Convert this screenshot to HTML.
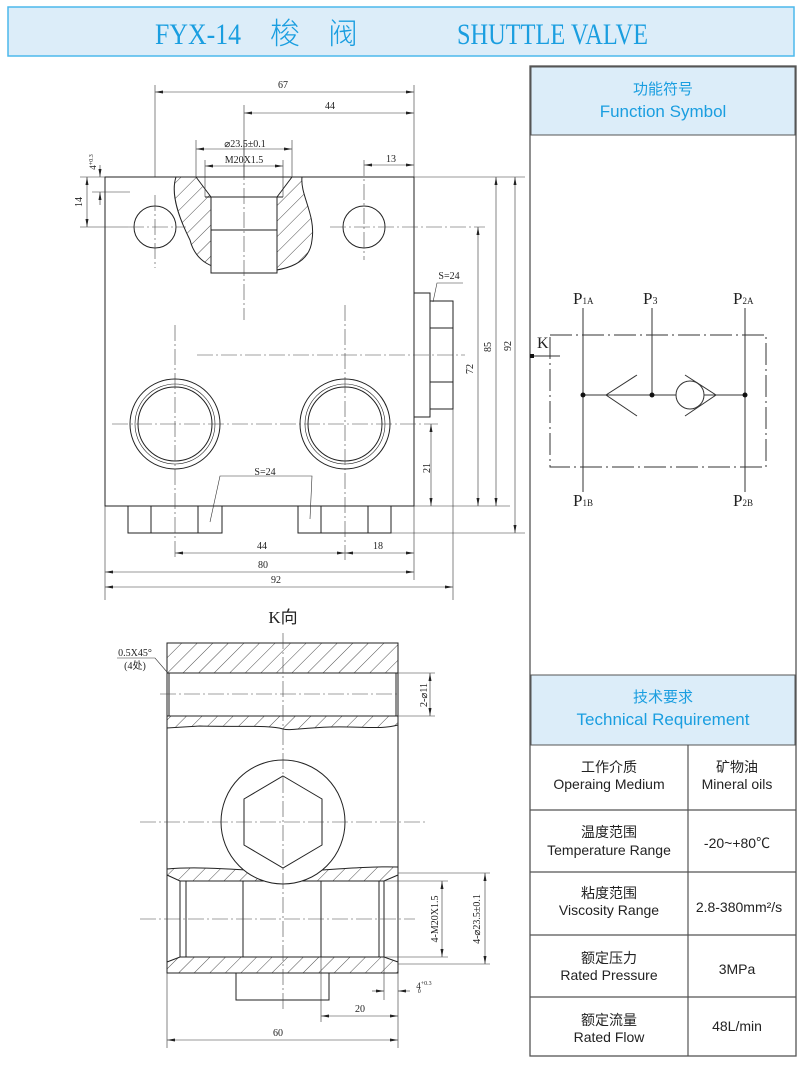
<!DOCTYPE html>
<html><head><meta charset="utf-8"><style>
html,body{margin:0;padding:0;background:#fff;}
body{width:800px;height:1066px;position:relative;overflow:hidden;font-family:"Liberation Sans","Noto Sans CJK SC",sans-serif;}
svg{position:absolute;left:0;top:0;}
</style></head><body>
<svg width="800" height="1066" viewBox="0 0 800 1066" xmlns="http://www.w3.org/2000/svg">
<defs>
<pattern id="h" width="11" height="11" patternUnits="userSpaceOnUse" patternTransform="rotate(45)">
<line x1="0" y1="0" x2="0" y2="11" stroke="#222" stroke-width="0.8"/></pattern>
<marker id="a" markerWidth="8" markerHeight="6" refX="8" refY="3" orient="auto-start-reverse" markerUnits="userSpaceOnUse"><path d="M0,1.5 L8,3 L0,4.5z" fill="#222"/></marker>
</defs>
<!-- header -->
<rect x="8" y="7" width="786" height="49" fill="#dcedf9" stroke="#4cb8ec" stroke-width="1.5"/>
<g font-family="Liberation Serif,Noto Serif CJK SC,serif" font-size="30" fill="#1a9ee0">
<text x="155" y="44" textLength="86" lengthAdjust="spacingAndGlyphs">FYX-14</text>
<text x="270" y="44" font-family="Noto Sans CJK SC,sans-serif" font-weight="300">梭</text>
<text x="328" y="44" font-family="Noto Sans CJK SC,sans-serif" font-weight="300">阀</text>
<text x="457" y="44" textLength="191" lengthAdjust="spacingAndGlyphs">SHUTTLE VALVE</text>
</g>

<!-- right panel -->
<rect x="530" y="66" width="266" height="990" fill="none" stroke="#555" stroke-width="1.3"/>
<rect x="531" y="67" width="264" height="68" fill="#dcedf9" stroke="#555"/>
<text x="663" y="94" text-anchor="middle" font-size="15" fill="#1a9ee0">功能符号</text>
<text x="663" y="117" text-anchor="middle" font-size="17" fill="#1a9ee0">Function Symbol</text>
<rect x="531" y="675" width="264" height="70" fill="#dcedf9" stroke="#555"/>
<text x="663" y="702" text-anchor="middle" font-size="15" fill="#1a9ee0">技术要求</text>
<text x="663" y="725" text-anchor="middle" font-size="17" fill="#1a9ee0">Technical Requirement</text>
<g stroke="#555" stroke-width="1.2">
<line x1="688" y1="745" x2="688" y2="1056"/>
<line x1="530" y1="810" x2="796" y2="810"/>
<line x1="530" y1="872" x2="796" y2="872"/>
<line x1="530" y1="935" x2="796" y2="935"/>
<line x1="530" y1="997" x2="796" y2="997"/>
</g>
<g font-size="14" fill="#222" text-anchor="middle">
<text x="609" y="772">工作介质</text><text x="609" y="789">Operaing Medium</text>
<text x="737" y="772">矿物油</text><text x="737" y="789">Mineral oils</text>
<text x="609" y="837">温度范围</text><text x="609" y="855">Temperature Range</text>
<text x="737" y="848">-20~+80℃</text>
<text x="609" y="898">粘度范围</text><text x="609" y="915">Viscosity Range</text>
<text x="739" y="912">2.8-380mm²/s</text>
<text x="609" y="963">额定压力</text><text x="609" y="980">Rated Pressure</text>
<text x="737" y="974">3MPa</text>
<text x="609" y="1025">额定流量</text><text x="609" y="1042">Rated Flow</text>
<text x="737" y="1031">48L/min</text>
</g>

<!-- function symbol -->
<g stroke="#333" stroke-width="1" fill="none">
<rect x="550" y="335" width="216" height="132" stroke-dasharray="22,4,2,4"/>
<line x1="583" y1="308" x2="583" y2="492"/>
<line x1="745" y1="308" x2="745" y2="492"/>
<line x1="652" y1="308" x2="652" y2="395"/>
<line x1="583" y1="395" x2="745" y2="395"/>
<polyline points="637,375 606,395 637,416"/>
<circle cx="690" cy="395" r="14" fill="#fff"/>
<polyline points="685,375 716,395 685,416"/>
<line x1="530" y1="356" x2="560" y2="356"/>
</g>
<g fill="#111"><circle cx="583" cy="395" r="2.5"/><circle cx="652" cy="395" r="2.5"/><circle cx="745" cy="395" r="2.5"/><rect x="530" y="354" width="4" height="4"/></g>
<g font-family="Liberation Serif,serif" fill="#222">
<text x="573" y="304" font-size="17">P<tspan font-size="9">1A</tspan></text>
<text x="643" y="304" font-size="17">P<tspan font-size="10">3</tspan></text>
<text x="733" y="304" font-size="17">P<tspan font-size="9">2A</tspan></text>
<text x="573" y="506" font-size="17">P<tspan font-size="9">1B</tspan></text>
<text x="733" y="506" font-size="17">P<tspan font-size="9">2B</tspan></text>
<text x="537" y="348" font-size="16">K</text>
</g>

<!-- top view -->
<g stroke="#222" stroke-width="1" fill="none">
<path d="M176,177 C170,195 180,220 190,240 C195,260 210,272 250,272 C290,272 310,262 312,240 C316,215 300,195 302,177" fill="url(#h)"/>
<path d="M196,177 L211,197 L211,273 L277,273 L277,197 L292,177z" fill="#fff"/>
<line x1="205" y1="197" x2="283" y2="197"/>
<line x1="211" y1="230" x2="277" y2="230"/>
<rect x="105" y="177" width="309" height="329"/>
<circle cx="155" cy="227" r="21"/><circle cx="364" cy="227" r="21"/>
<circle cx="175" cy="424" r="45"/><circle cx="175" cy="424" r="37"/><circle cx="175" cy="424" r="40" stroke-width="0.6"/>
<circle cx="345" cy="424" r="45"/><circle cx="345" cy="424" r="37"/><circle cx="345" cy="424" r="40" stroke-width="0.6"/>
<rect x="414" y="293" width="16" height="124"/>
<rect x="430" y="301" width="23" height="108"/>
<line x1="430" y1="328" x2="453" y2="328"/><line x1="430" y1="382" x2="453" y2="382"/>
<rect x="128" y="506" width="94" height="27"/><line x1="151" y1="506" x2="151" y2="533"/><line x1="198" y1="506" x2="198" y2="533"/>
<rect x="298" y="506" width="93" height="27"/><line x1="321" y1="506" x2="321" y2="533"/><line x1="368" y1="506" x2="368" y2="533"/>
</g>
<g stroke="#444" stroke-width="0.6" fill="none" stroke-dasharray="16,3,2,3">
<line x1="244" y1="140" x2="244" y2="320"/>
<line x1="155" y1="195" x2="155" y2="268"/><line x1="128" y1="227" x2="186" y2="227"/>
<line x1="364" y1="160" x2="364" y2="260"/><line x1="330" y1="227" x2="485" y2="227"/>
<line x1="175" y1="325" x2="175" y2="560"/><line x1="345" y1="305" x2="345" y2="560"/>
<line x1="112" y1="424" x2="438" y2="424"/><line x1="197" y1="355" x2="465" y2="355"/>
</g>
<g stroke="#333" stroke-width="0.6" fill="none">
<line x1="155" y1="85" x2="155" y2="177"/><line x1="414" y1="85" x2="414" y2="177"/><line x1="244" y1="105" x2="244" y2="177"/>
<line x1="155" y1="92" x2="414" y2="92" marker-start="url(#a)" marker-end="url(#a)"/>
<line x1="244" y1="113" x2="414" y2="113" marker-start="url(#a)" marker-end="url(#a)"/>
<line x1="196" y1="140" x2="196" y2="177"/><line x1="292" y1="140" x2="292" y2="177"/>
<line x1="196" y1="149" x2="292" y2="149" marker-start="url(#a)" marker-end="url(#a)"/>
<line x1="205" y1="160" x2="205" y2="197"/><line x1="283" y1="160" x2="283" y2="197"/>
<line x1="205" y1="166" x2="283" y2="166" marker-start="url(#a)" marker-end="url(#a)"/>
<line x1="364" y1="165" x2="414" y2="165" marker-start="url(#a)" marker-end="url(#a)"/>
<line x1="80" y1="177" x2="105" y2="177"/><line x1="80" y1="227" x2="128" y2="227"/>
<line x1="87" y1="177" x2="87" y2="227" marker-start="url(#a)" marker-end="url(#a)"/>
<line x1="92" y1="192" x2="130" y2="192"/>
<line x1="100" y1="165" x2="100" y2="177" marker-end="url(#a)"/><line x1="100" y1="205" x2="100" y2="192" marker-end="url(#a)"/>
<line x1="414" y1="177" x2="525" y2="177"/><line x1="414" y1="506" x2="510" y2="506"/><line x1="391" y1="533" x2="525" y2="533"/>
<line x1="431" y1="424" x2="431" y2="506" marker-start="url(#a)" marker-end="url(#a)"/>
<line x1="478" y1="227" x2="478" y2="506" marker-start="url(#a)" marker-end="url(#a)"/>
<line x1="496" y1="177" x2="496" y2="506" marker-start="url(#a)" marker-end="url(#a)"/>
<line x1="515" y1="177" x2="515" y2="533" marker-start="url(#a)" marker-end="url(#a)"/>
<line x1="105" y1="506" x2="105" y2="600"/><line x1="414" y1="506" x2="414" y2="580"/><line x1="453" y1="409" x2="453" y2="600"/>
<line x1="175" y1="553" x2="345" y2="553" marker-start="url(#a)" marker-end="url(#a)"/>
<line x1="345" y1="553" x2="414" y2="553" marker-start="url(#a)" marker-end="url(#a)"/>
<line x1="105" y1="572" x2="414" y2="572" marker-start="url(#a)" marker-end="url(#a)"/>
<line x1="105" y1="587" x2="453" y2="587" marker-start="url(#a)" marker-end="url(#a)"/>
<polyline points="210,522 220,476 312,476 310,519"/>
<polyline points="433,302 437,283 463,283"/>
</g>
<g font-family="Liberation Serif,serif" font-size="10" fill="#222" text-anchor="middle">
<text x="283" y="88">67</text><text x="330" y="109">44</text>
<text x="245" y="147">⌀23.5±0.1</text><text x="244" y="163">M20X1.5</text>
<text x="391" y="162">13</text>
<text x="265" y="475">S=24</text><text x="449" y="279">S=24</text>
<text x="262" y="549">44</text><text x="378" y="549">18</text>
<text x="263" y="568">80</text><text x="276" y="583">92</text>
<text transform="translate(430,468) rotate(-90)">21</text>
<text transform="translate(473,369) rotate(-90)">72</text>
<text transform="translate(491,347) rotate(-90)">85</text>
<text transform="translate(511,346) rotate(-90)">92</text>
<text transform="translate(82,202) rotate(-90)">14</text>
<text transform="translate(96,162) rotate(-90)" font-size="9">4<tspan font-size="6" dy="-3">+0.3</tspan></text>
</g>

<!-- K view -->
<text x="283" y="623" text-anchor="middle" font-family="Liberation Serif,serif" font-size="17" fill="#222">K<tspan font-family="Noto Sans CJK SC,sans-serif">向</tspan></text>
<g stroke="#222" stroke-width="1" fill="none">
<rect x="167" y="643" width="231" height="30" fill="url(#h)"/>
<path d="M167,716 L398,716 L398,725 C380,730 360,726 330,727 C300,728 290,731 283,729 C270,725 240,727 200,726 L167,728z" fill="url(#h)"/>
<rect x="167" y="643" width="231" height="330"/>
<line x1="167" y1="673" x2="398" y2="673"/><line x1="167" y1="716" x2="398" y2="716"/>
<line x1="169" y1="673" x2="169" y2="716"/><line x1="396" y1="673" x2="396" y2="716"/>
<!-- upper band of bottom section -->
<path d="M167,869 C200,866 240,870 283,872 C320,871 360,866 398,867 L398,875 L384,881 L321,881 L243,881 L180,881 L167,875z" fill="url(#h)"/>
<!-- lower band -->
<path d="M167,962 L180,957 L384,957 L398,962 L398,973 L167,973z" fill="url(#h)"/>
<line x1="180" y1="881" x2="180" y2="957"/><line x1="186" y1="881" x2="186" y2="957"/>
<line x1="243" y1="881" x2="243" y2="957"/>
<line x1="321" y1="881" x2="321" y2="957"/>
<line x1="379" y1="881" x2="379" y2="957"/><line x1="384" y1="881" x2="384" y2="957"/>
<circle cx="283" cy="822" r="62" fill="#fff"/>
<polygon points="283,776 322,799 322,845 283,868 244,845 244,799"/>
<rect x="236" y="973" width="93" height="27"/>
</g>
<g stroke="#444" stroke-width="0.6" fill="none" stroke-dasharray="16,3,2,3">
<line x1="283" y1="633" x2="283" y2="1010"/>
<line x1="160" y1="694" x2="400" y2="694"/>
<line x1="140" y1="822" x2="425" y2="822"/>
<line x1="140" y1="919" x2="415" y2="919"/>
</g>
<g stroke="#333" stroke-width="0.6" fill="none">
<polyline points="117,658 155,658 167,672"/>
<line x1="398" y1="673" x2="435" y2="673"/><line x1="398" y1="716" x2="435" y2="716"/>
<line x1="430" y1="673" x2="430" y2="716" marker-start="url(#a)" marker-end="url(#a)"/>
<line x1="384" y1="881" x2="448" y2="881"/><line x1="384" y1="957" x2="448" y2="957"/>
<line x1="442" y1="881" x2="442" y2="957" marker-start="url(#a)" marker-end="url(#a)"/>
<line x1="398" y1="873" x2="490" y2="873"/><line x1="398" y1="964" x2="490" y2="964"/>
<line x1="485" y1="873" x2="485" y2="964" marker-start="url(#a)" marker-end="url(#a)"/>
<line x1="384" y1="957" x2="384" y2="1000"/>
<line x1="372" y1="991" x2="384" y2="991" marker-end="url(#a)"/><line x1="410" y1="991" x2="398" y2="991" marker-end="url(#a)"/>
<line x1="321" y1="957" x2="321" y2="1022"/><line x1="398" y1="973" x2="398" y2="1048"/><line x1="167" y1="973" x2="167" y2="1048"/>
<line x1="321" y1="1016" x2="398" y2="1016" marker-start="url(#a)" marker-end="url(#a)"/>
<line x1="167" y1="1040" x2="398" y2="1040" marker-start="url(#a)" marker-end="url(#a)"/>
</g>
<g font-family="Liberation Serif,serif" font-size="10" fill="#222" text-anchor="middle">
<text x="135" y="656">0.5X45°</text><text x="135" y="669">(4处)</text>
<text transform="translate(427,695) rotate(-90)">2-⌀11</text>
<text transform="translate(438,919) rotate(-90)">4-M20X1.5</text>
<text transform="translate(480,919) rotate(-90)">4-⌀23.5±0.1</text>
<text x="424" y="989" font-size="9">4<tspan font-size="6" dy="-4">+0.3</tspan><tspan font-size="6" dx="-14" dy="8">0</tspan></text>
<text x="360" y="1012">20</text><text x="278" y="1036">60</text>
</g>
</svg>
</body></html>
